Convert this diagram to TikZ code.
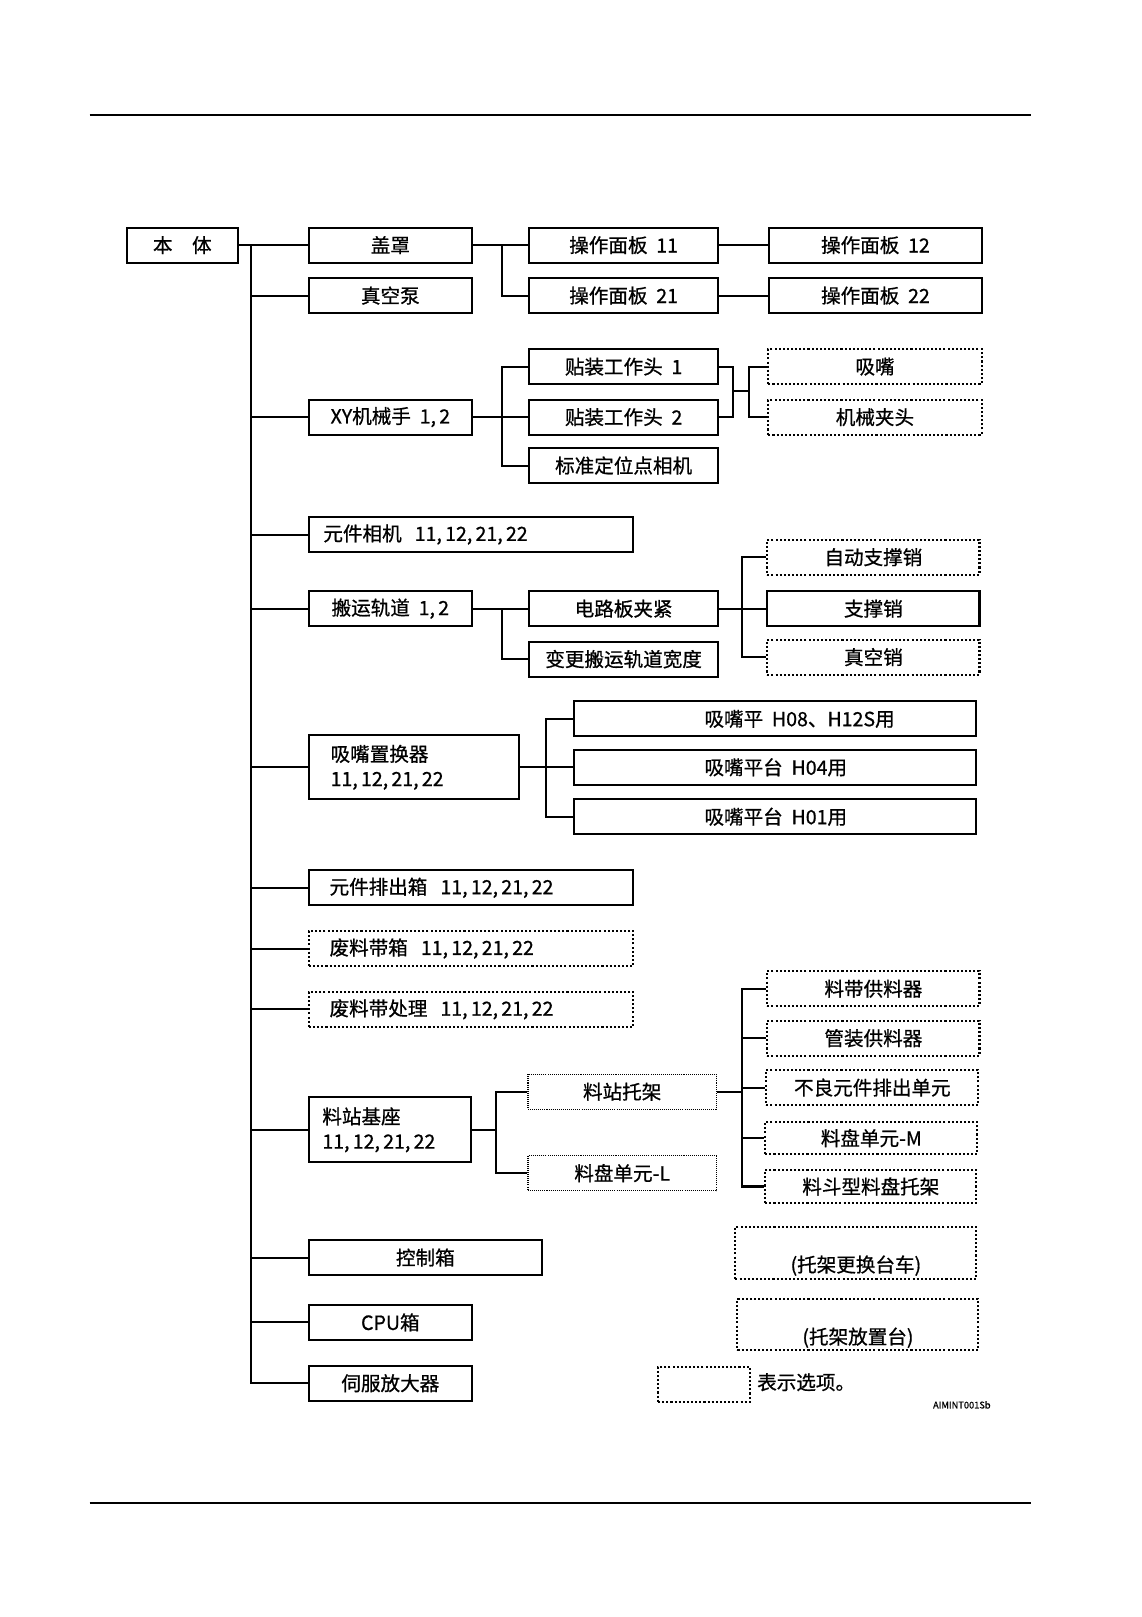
\documentclass[tikz,border=0pt]{standalone}
\usepackage{fontspec}
\setmainfont{Noto Sans CJK SC}[FakeBold=0.8]
\usepackage{tikz}

\begin{document}
\begin{tikzpicture}[x=1pt, y=-1pt,
  font=\fontsize{19}{24}\selectfont,
  box/.style={draw, line width=2pt, minimum height=34pt, inner sep=0pt, anchor=west},
  opt/.style={box, dash pattern=on 2pt off 2pt},
  fine/.style={box, line width=1.2pt, dash pattern=on 1pt off 1pt},
  conn/.style={line width=2pt}]
\useasboundingbox (0,0) rectangle (1108,1570);
\draw[line width=2pt] (87,112) -- (1001,112);
\draw[line width=2pt] (87,1459) -- (1001,1459);
\node[box, minimum width=108pt] (body) at (122,238) {本\quad 体};
\node[box, minimum width=158pt] (hood) at (299,238) {盖罩};
\node[box, minimum width=158pt] (vacpump) at (299,287) {真空泵};
\node[box, minimum width=183pt] (panel11) at (513,238) {操作面板\ \ 11};
\node[box, minimum width=183pt] (panel21) at (513,287) {操作面板\ \ 21};
\node[box, minimum width=206pt] (panel12) at (746,238) {操作面板\ \ 12};
\node[box, minimum width=206pt] (panel22) at (746,287) {操作面板\ \ 22};
\node[box, minimum width=158pt] (xyrobot) at (299,405) {XY机械手\ \ 1,\,2};
\node[box, minimum width=183pt] (head1) at (513,356) {贴装工作头\ \ 1};
\node[box, minimum width=183pt] (head2) at (513,405) {贴装工作头\ \ 2};
\node[box, minimum width=183pt] (fidcam) at (513,452) {标准定位点相机};
\node[opt, minimum width=207pt] (nozzle) at (745,356) {吸嘴};
\node[opt, minimum width=207pt] (chuck) at (745,405) {机械夹头};
\node[box, text width=287pt, inner xsep=14pt, align=left] (partcam) at (299,519) {元件相机\ \ 11,\,12,\,21,\,22};
\node[box, minimum width=158pt] (convey) at (299,591) {搬运轨道\ \ 1,\,2};
\node[box, minimum width=183pt] (clamp) at (513,591) {电路板夹紧};
\node[box, minimum width=183pt] (railw) at (513,640) {变更搬运轨道宽度};
\node[opt, minimum width=206pt] (autopin) at (744,541) {自动支撑销};
\node[box, minimum width=206pt] (bpin) at (744,591) {支撑销};
\node[opt, minimum width=206pt] (vacpin) at (744,638) {真空销};
\node[box, minimum height=62pt, text width=162pt, inner xsep=21pt, align=left] (nzchanger) at (299,745) {吸嘴置换器\\11,\,12,\,21,\,22};
\node[box, minimum width=391pt] (st08) at (556,698) {\makebox[137pt][l]{吸嘴平\ \ H08、H12S用}};
\node[box, minimum width=391pt] (st04) at (556,745) {\makebox[137pt][l]{吸嘴平台\ \ H04用}};
\node[box, minimum width=391pt] (st01) at (556,793) {\makebox[137pt][l]{吸嘴平台\ \ H01用}};
\node[box, text width=275pt, inner xsep=20pt, align=left] (ejectbox) at (299,862) {元件排出箱\ \ 11,\,12,\,21,\,22};
\node[opt, text width=275pt, inner xsep=20pt, align=left] (wastebox) at (299,921) {废料带箱\ \ 11,\,12,\,21,\,22};
\node[opt, text width=275pt, inner xsep=20pt, align=left] (wastecut) at (299,980) {废料带处理\ \ 11,\,12,\,21,\,22};
\node[box, minimum height=63pt, text width=131pt, inner xsep=13pt, align=left] (fbase) at (299,1097) {料站基座\\11,\,12,\,21,\,22};
\node[fine, minimum width=183pt] (fcart) at (512,1060) {料站托架};
\node[fine, minimum width=183pt] (trayL) at (512,1139) {料盘单元-L};
\node[opt, minimum width=206pt] (tapef) at (744,960) {料带供料器};
\node[opt, minimum width=206pt] (tubef) at (744,1008) {管装供料器};
\node[opt, minimum width=206pt] (rejunit) at (743,1056) {不良元件排出单元};
\node[opt, minimum width=206pt, minimum height=31pt] (trayM) at (742,1105) {料盘单元-M};
\node[opt, minimum width=205pt, minimum height=32pt] (hopper) at (742,1152) {料斗型料盘托架};
\node[box, minimum width=226pt] (ctrlbox) at (299,1221) {控制箱};
\node[box, minimum width=158pt] (cpubox) at (299,1284) {CPU箱};
\node[box, minimum width=158pt] (servo) at (299,1343) {伺服放大器};
\node[opt, anchor=north west, minimum width=234pt, inner ysep=0pt, text height=44pt, text depth=7pt] (chgcart) at (713,1190) {(托架更换台车)};
\node[opt, anchor=north west, minimum width=234pt, inner ysep=0pt, text height=44pt, text depth=6pt] (cartstand) at (715,1260) {(托架放置台)};
\node[opt, anchor=north west, minimum width=89pt, minimum height=34pt] (legend) at (638,1326) {};
\node[anchor=west, inner sep=0pt] (legendtxt) at (735,1342) {表示选项。};
\node[anchor=east, inner sep=0pt, font=\fontsize{9}{10}\selectfont] (figid) at (962,1364) {AIMINT001Sb};
\coordinate (tk) at (244,238);
\coordinate (bx1) at (487,0);
\coordinate (bx2) at (720,0);
\coordinate (bx4) at (530,0);
\coordinate (bx5) at (482,0);
\coordinate (hj) at (712,380);
\draw[conn] (body.east) -- (hood.west);
\draw[conn] (tk) |- (servo.west);
\foreach \n in {vacpump,xyrobot,partcam,convey,nzchanger,ejectbox,wastebox,wastecut,fbase,ctrlbox,cpubox}
  \draw[conn] (tk |- \n.west) -- (\n.west);
\draw[conn] (hood.east) -- (panel11.west);
\draw[conn] (hood.east -| bx1) |- (panel21.west);
\draw[conn] (panel11.east) -- (panel12.west);
\draw[conn] (panel21.east) -- (panel22.west);
\draw[conn] (xyrobot.east) -- (head2.west);
\draw[conn] (head1.west) -| (bx1 |- fidcam.west) -- (fidcam.west);
\draw[conn] (head1.east) -| (hj) |- (head2.east);
\draw[conn] (hj) -- ++(15,0) coordinate (hk);
\draw[conn] (nozzle.west) -| (hk) |- (chuck.west);
\draw[conn] (convey.east) -- (clamp.west);
\draw[conn] (convey.east -| bx1) |- (railw.west);
\draw[conn] (clamp.east) -- (bpin.west);
\draw[conn] (autopin.west) -| (bx2 |- vacpin.west) -- (vacpin.west);
\draw[conn] (nzchanger.east) -- (st04.west);
\draw[conn] (st08.west) -| (bx4 |- st01.west) -- (st01.west);
\draw[conn] (fbase.east) -- (fbase.east -| bx5);
\draw[conn] (fcart.west) -| (bx5 |- trayL.west) -- (trayL.west);
\draw[conn] (fcart.east) -- (fcart.east -| bx2);
\draw[conn] (tapef.west) -| (bx2 |- hopper.west) -- (hopper.west);
\foreach \n in {tubef,rejunit,trayM}
  \draw[conn] (bx2 |- \n.west) -- (\n.west);
\end{tikzpicture}
\end{document}
